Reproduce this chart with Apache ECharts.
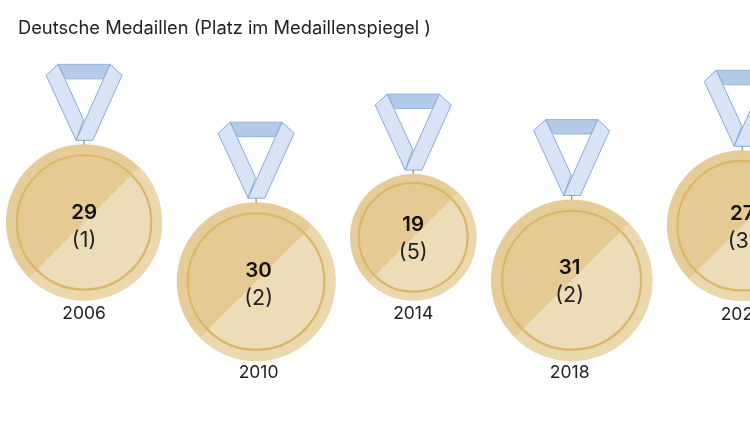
<!DOCTYPE html>
<html><head><meta charset="utf-8">
<style>html,body{margin:0;padding:0;background:#fff}#c{width:750px;height:421px}</style>
<script src="https://cdn.jsdelivr.net/npm/echarts@6/dist/echarts.min.js"></script>
</head><body><div id="c"></div>
<script>
const years = [2006, 2010, 2014, 2018, 2022];
const medals = [29, 30, 19, 31, 27];
const ranks = [1, 2, 5, 2, 3];
const rows = [300.5, 361, 300.5, 361, 301];
const textNudgeX = [0, 2.5, 0, -2, 0];
const textNudgeY = [-9.5, -11, -12.5, -12.5, -12];
const yearNudgeY = [13.5, 12, 13.5, 11.5, 13.5];

const FONT = 'Inter, "Open Sans", sans-serif';
const radiusPerRoot = 14.5, gap = 14.5, firstLeft = 6;
const radii = medals.map(m => radiusPerRoot * Math.sqrt(m));
const centres = [];
radii.forEach((r, i) => {
  centres.push(i === 0 ? firstLeft + r : centres[i - 1] + radii[i - 1] + gap + r);
});
const table = years.map((y, i) => [centres[i], rows[i] - radii[i], radii[i], medals[i], ranks[i], y]);

function poly(points, cx, top, fill, stroke) {
  return { type: 'polygon',
    shape: { points: points.map(p => [cx + p[0], top + p[1]]) },
    style: { fill, stroke, lineWidth: 0.9 } };
}
function renderItem(params, api) {
  const c = api.coord([api.value(0), api.value(1)]);
  const R = api.size([api.value(2), 0])[0];
  const cx = c[0], cy = c[1], top = cy - R;
  const inner = R * 0.86;
  const half = (r, fill) => ({ type: 'sector',
    shape: { cx, cy, r, startAngle: -Math.PI / 4, endAngle: Math.PI * 3 / 4, clockwise: true },
    style: { fill } });
  const yr = api.value(5), med = api.value(3), rk = api.value(4);
  const i = params.dataIndex;
  const tx = cx + textNudgeX[i];
  const ny = cy + textNudgeY[i];
  return { type: 'group', children: [
    { type: 'line', shape: { x1: cx, y1: top - 5, x2: cx, y2: top + 1 }, style: { stroke: '#b5963a', lineWidth: 1.3 } },
    poly([[-26, -80], [26, -80], [19.5, -65.5], [-18, -65.5]], cx, top, '#b3cbe9', '#8fb0d8'),
    poly([[-38, -69], [-26, -80], [-0.5, -24.5], [-8, -4]], cx, top, '#d8e4f5', '#7ba3d2'),
    poly([[26, -80], [38, -69], [8.7, -4], [-8, -4]], cx, top, '#d8e4f5', '#7ba3d2'),
    { type: 'circle', shape: { cx, cy, r: R }, style: { fill: '#e6cc98' } },
    half(R, '#ebd8ac'),
    { type: 'circle', shape: { cx, cy, r: inner }, style: { fill: '#e5ca94' } },
    half(inner, '#ecdcb8'),
    { type: 'circle', shape: { cx, cy, r: inner }, style: { fill: 'none', stroke: '#dab768', lineWidth: 2.2 } },
    { type: 'text', style: { text: String(med), x: tx, y: ny, align: 'center', verticalAlign: 'middle',
        font: '600 20.5px ' + FONT, fill: '#111' } },
    { type: 'text', style: { text: '(' + rk + ')', x: tx, y: ny + 28, align: 'center', verticalAlign: 'middle',
        font: '400 21.5px ' + FONT, fill: '#222' } },
    { type: 'text', style: { text: String(yr), x: tx, y: cy + R + yearNudgeY[i], align: 'center', verticalAlign: 'middle',
        font: '400 17.5px ' + FONT, fill: '#222' } }
  ] };
}
const chart = echarts.init(document.getElementById('c'), null, { renderer: 'canvas' });
chart.setOption({
  animation: false,
  backgroundColor: '#fff',
  title: { text: 'Deutsche Medaillen (Platz im Medaillenspiegel )', left: 18, top: 20,
    padding: 0,
    textStyle: { fontFamily: FONT, fontWeight: 400, fontSize: 18.3, color: '#222' } },
  grid: { left: 0, right: 0, top: 0, bottom: 0 },
  xAxis: { type: 'value', min: 0, max: 750, show: false },
  yAxis: { type: 'value', min: 0, max: 421, inverse: true, show: false },
  series: [{ type: 'custom', renderItem, clip: true, data: table,
    encode: { x: 0, y: 1 } }]
});
</script></body></html>
